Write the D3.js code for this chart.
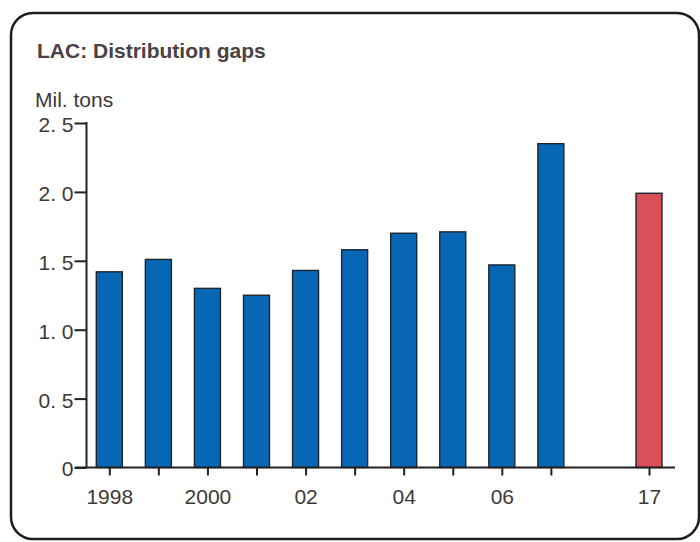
<!DOCTYPE html>
<html>
<head>
<meta charset="utf-8">
<script src="https://cdn.jsdelivr.net/npm/d3@7"></script>
<style>
  html, body { margin: 0; padding: 0; background: #ffffff; }
  svg { display: block; }
  text { font-family: "Liberation Sans", Arial, sans-serif; }
</style>
</head>
<body>
<script>
// ---- data ----
const years = ["1998","1999","2000","2001","2002","2003","2004","2005","2006","2007","2017"];
const values = [1.42, 1.51, 1.30, 1.25, 1.43, 1.58, 1.70, 1.71, 1.47, 2.35, 1.99];
const projected = ["2017"];
const slots = ["1998","1999","2000","2001","2002","2003","2004","2005","2006","2007","gap","2017"];
const xTickLabels = ["1998","","2000","","02","","04","","06","","17"];
const yTicks = [0, 0.5, 1.0, 1.5, 2.0, 2.5];
const yTickLabels = ["0","0. 5","1. 0","1. 5","2. 0","2. 5"];
const title = "LAC: Distribution gaps";
const unit = "Mil. tons";

// ---- layout ----
const W = 700, H = 542;
const svg = d3.select("body").append("svg").attr("width", W).attr("height", H);

// frame
svg.append("rect")
  .attr("x", 11).attr("y", 13).attr("width", 688).attr("height", 526)
  .attr("rx", 22).attr("ry", 22)
  .attr("fill", "#ffffff").attr("stroke", "#1e1e1e").attr("stroke-width", 2.5);

const textColor = "#3d3838";

svg.append("text").attr("x", 37).attr("y", 58)
  .attr("font-size", 21).attr("font-weight", "bold").attr("fill", "#4a4244")
  .text(title);
svg.append("text").attr("x", 35).attr("y", 107)
  .attr("font-size", 21).attr("fill", textColor)
  .text(unit);

const x = d3.scalePoint().domain(slots).range([109.3, 649]);
const y = d3.scaleLinear().domain([0, 2.5]).range([467.5, 123]);
const barW = x.step() * 0.53;

// bars
svg.append("g").selectAll("rect").data(years).join("rect")
  .attr("x", d => x(d) - barW / 2)
  .attr("y", (d, i) => y(values[i]))
  .attr("width", barW)
  .attr("height", (d, i) => y(0) - y(values[i]))
  .attr("fill", d => projected.includes(d) ? "#db5058" : "#0867b5")
  .attr("stroke", "#1c2630").attr("stroke-width", 1.4);

// y axis
const yAxis = d3.axisLeft(y).tickValues(yTicks).tickSize(12).tickPadding(1)
  .tickFormat((d, i) => yTickLabels[i]);
const gy = svg.append("g").attr("transform", "translate(86.5,0)").call(yAxis);
gy.select(".domain").remove();
gy.selectAll(".tick line").attr("stroke", "#222").attr("stroke-width", 2);
gy.selectAll(".tick text").attr("font-size", 21).attr("fill", textColor)
  .attr("font-family", "Liberation Sans, Arial, sans-serif").attr("dy", "0.4em");
svg.append("line").attr("x1", 86.5).attr("x2", 86.5).attr("y1", 122).attr("y2", 467.5)
  .attr("stroke", "#222").attr("stroke-width", 2);

// x axis
const xAxis = d3.axisBottom(x).tickValues(years).tickSize(8).tickSizeOuter(0)
  .tickFormat((d, i) => xTickLabels[i]);
const gx = svg.append("g").attr("transform", `translate(0,${y(0)})`).call(xAxis);
gx.select(".domain").remove();
gx.selectAll(".tick line").attr("stroke", "#222").attr("stroke-width", 2);
gx.selectAll(".tick text").attr("font-size", 21).attr("fill", textColor)
  .attr("font-family", "Liberation Sans, Arial, sans-serif")
  .attr("y", 36).attr("dy", null);
svg.append("line").attr("x1", 75).attr("x2", 675).attr("y1", y(0)).attr("y2", y(0))
  .attr("stroke", "#222").attr("stroke-width", 2);
</script>
</body>
</html>
